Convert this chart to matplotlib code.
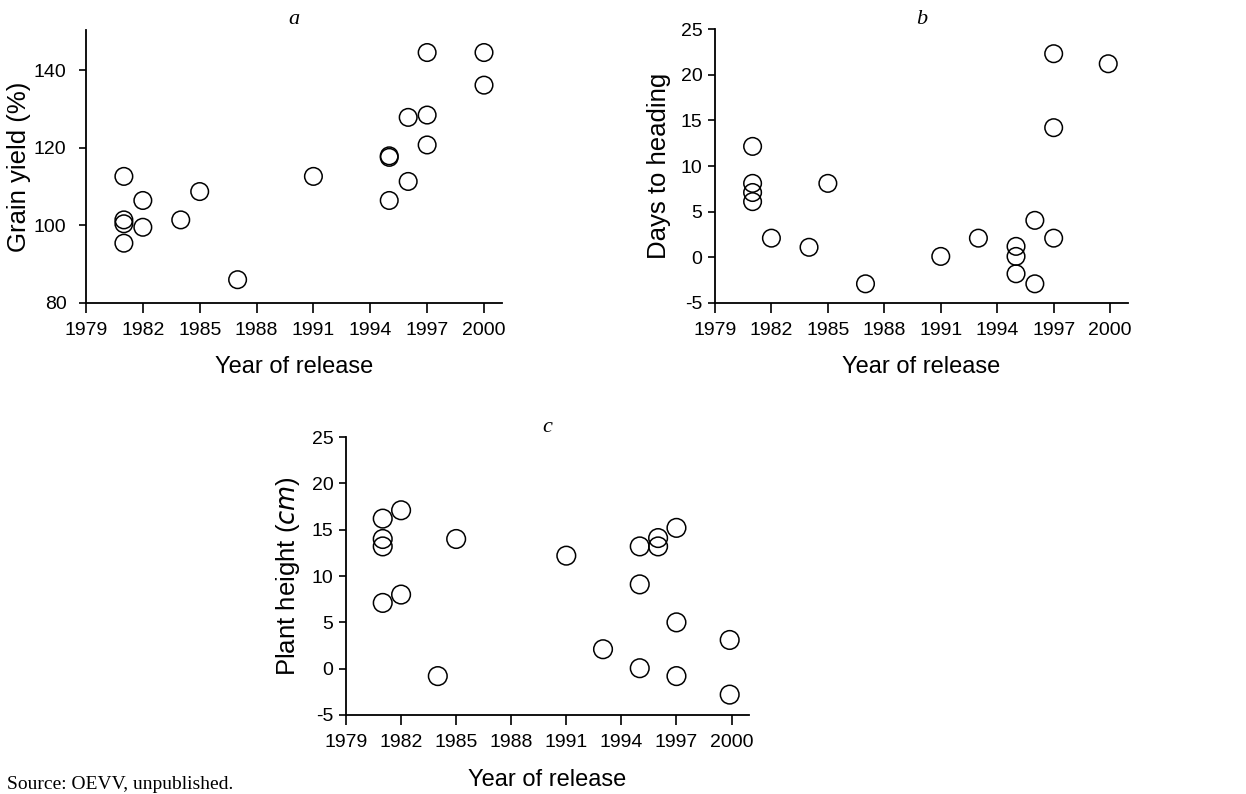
import matplotlib
matplotlib.use('Agg')
import matplotlib.pyplot as plt

plt.rcParams['font.family'] = ['Liberation Sans', 'DejaVu Sans']
plt.rcParams['axes.unicode_minus'] = False

# panel a - grain yield
years_a = [1981, 1981, 1981, 1981, 1982, 1982, 1984, 1985, 1987, 1991,
           1995, 1995, 1995, 1996, 1996, 1997, 1997, 1997, 2000, 2000]
yield_a = [112.6, 101.4, 100.4, 95.4, 106.4, 99.5, 101.4, 108.7, 86.0, 112.6,
           117.9, 117.5, 106.4, 127.8, 111.3, 144.5, 128.4, 120.7, 144.5, 136.1]

# panel b - days to heading
years_b = [1981, 1981, 1981, 1981, 1982, 1984, 1985, 1987, 1991, 1993,
           1995, 1995, 1995, 1996, 1996, 1997, 1997, 1997, 1999.9]
heading_b = [12.15, 8.1, 7.1, 6.1, 2.1, 1.1, 8.1, -2.9, 0.1, 2.1,
             1.2, 0.1, -1.8, 4.05, -2.9, 22.3, 14.2, 2.1, 21.2]

# panel c - plant height
years_c = [1981, 1981, 1981, 1981, 1982, 1982, 1984, 1985, 1991, 1993,
           1995, 1995, 1995, 1996, 1996, 1997, 1997, 1997, 1999.9, 1999.9]
height_c = [16.2, 14.0, 13.2, 7.1, 17.1, 8.0, -0.8, 14.0, 12.2, 2.1,
            13.2, 9.1, 0.05, 14.1, 13.2, 15.2, 5.0, -0.8, 3.1, -2.8]

xticks = [1979, 1982, 1985, 1988, 1991, 1994, 1997, 2000]

fig = plt.figure(figsize=(12.46, 7.94), dpi=100)

ax_a = fig.add_axes([0.069, 0.6184, 0.3339, 0.3438])
ax_b = fig.add_axes([0.5738, 0.6184, 0.3315, 0.345])
ax_c = fig.add_axes([0.2777, 0.0995, 0.3234, 0.350])


def style_axis(ax, ylim, yticks, ylabel, title, ypad, ylabelpad, xlabelpad):
    ax.set_xlim(1979, 2000.95)
    ax.set_ylim(*ylim)
    ax.set_xticks(xticks)
    ax.set_yticks(yticks)
    for s in ['top', 'right']:
        ax.spines[s].set_visible(False)
    for s in ['left', 'bottom']:
        ax.spines[s].set_linewidth(1.3)
    ax.tick_params(axis='x', direction='out', length=7, width=1.2, pad=7, labelsize=14)
    ax.tick_params(axis='y', direction='out', length=5, width=1.2, pad=ypad, labelsize=14)
    ax.set_xlabel('Year of release', fontsize=17, labelpad=xlabelpad)
    ax.set_ylabel(ylabel, fontsize=18.5, labelpad=ylabelpad)
    ax.set_title(title, fontsize=16, style='italic', family='Liberation Serif', pad=4)


ax_a.scatter(years_a, yield_a, s=160, facecolors='none', edgecolors='black', linewidths=1.1, clip_on=False)
style_axis(ax_a, (80, 150.3), [80, 100, 120, 140], 'Grain yield (%)', 'a', 9, 2, 12)

ax_b.scatter(years_b, heading_b, s=160, facecolors='none', edgecolors='black', linewidths=1.1, clip_on=False)
style_axis(ax_b, (-5, 25), [-5, 0, 5, 10, 15, 20, 25], 'Days to heading', 'b', 4, 7, 12)

ax_c.scatter(years_c, height_c, s=180, facecolors='none', edgecolors='black', linewidths=1.1, clip_on=False)
style_axis(ax_c, (-5, 25), [-5, 0, 5, 10, 15, 20, 25], 'Plant height (' + r'$\it{cm}$' + ')', 'c', 4, 7, 13)

fig.text(0.006, 0.001, 'Source: OEVV, unpublished.', fontsize=14,
         family='Liberation Serif', va='bottom', ha='left')

fig.savefig('out.png', dpi=100)
